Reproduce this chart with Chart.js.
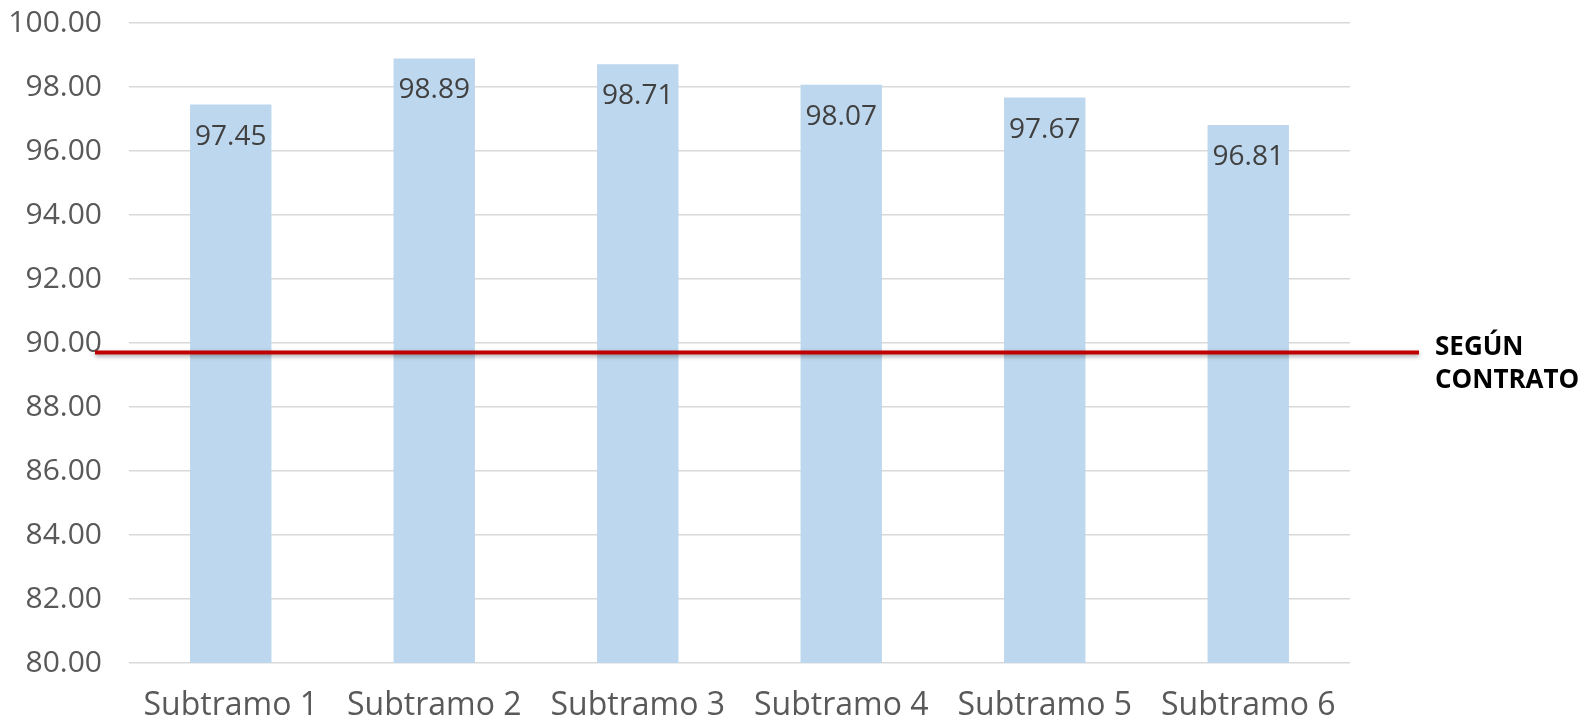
<!DOCTYPE html>
<html>
<head>
<meta charset="utf-8">
<script src="https://cdn.jsdelivr.net/npm/chart.js@4/dist/chart.umd.min.js"></script>
<style>
    body { margin: 0; background: #fff; }
    #wrap { width: 1582px; height: 727px; position: relative; }
</style>
</head>
<body>
<div id="wrap"><canvas id="chart"></canvas></div>
<script>
// Data
const categories = ['Subtramo 1', 'Subtramo 2', 'Subtramo 3', 'Subtramo 4', 'Subtramo 5', 'Subtramo 6'];
const values = [97.45, 98.89, 98.71, 98.07, 97.67, 96.81];
const yTicks = [80, 82, 84, 86, 88, 90, 92, 94, 96, 98, 100];
const contractValue = 89.7;
const contractLabel = ['SEGÚN', 'CONTRATO'];

const FONT = '"Open Sans", sans-serif';

// value labels inside the top of each bar
const barLabels = {
    id: 'barLabels',
    afterDatasetsDraw(chart) {
        const ctx = chart.ctx;
        const meta = chart.getDatasetMeta(0);
        ctx.save();
        ctx.font = '28px ' + FONT;
        ctx.fillStyle = '#404040';
        ctx.textAlign = 'center';
        ctx.textBaseline = 'middle';
        meta.data.forEach((bar, i) => {
            ctx.fillText(values[i].toFixed(2), bar.x, bar.y + 32);
        });
        ctx.restore();
    }
};

// red reference line + label
const contractLine = {
    id: 'contractLine',
    afterDraw(chart) {
        const ctx = chart.ctx;
        const area = chart.chartArea;
        const y = chart.scales.y.getPixelForValue(contractValue);
        ctx.save();
        ctx.shadowColor = 'rgba(0, 0, 0, 0.35)';
        ctx.shadowBlur = 4;
        ctx.shadowOffsetY = 2;
        ctx.strokeStyle = '#C00000';
        ctx.lineWidth = 4;
        ctx.beginPath();
        ctx.moveTo(area.left - 34, y);
        ctx.lineTo(area.right + 69, y);
        ctx.stroke();
        ctx.restore();

        ctx.save();
        ctx.font = 'bold 26px ' + FONT;
        ctx.fillStyle = '#000000';
        ctx.textAlign = 'left';
        ctx.textBaseline = 'middle';
        contractLabel.forEach((t, i) => {
            ctx.fillText(t, area.right + 85, y - 5 + i * 33);
        });
        ctx.restore();
    }
};

new Chart(document.getElementById('chart').getContext('2d'), {
    type: 'bar',
    data: {
        labels: categories,
        datasets: [{
            data: values,
            backgroundColor: '#BDD7EE',
            borderWidth: 0,
            barPercentage: 0.4,
            categoryPercentage: 1
        }]
    },
    options: {
        responsive: true,
        maintainAspectRatio: false,
        animation: false,
        layout: {
            padding: { top: 23, right: 232, bottom: 0, left: 0 }
        },
        plugins: {
            legend: { display: false },
            tooltip: { enabled: false }
        },
        scales: {
            x: {
                grid: { display: false },
                border: { display: false },
                ticks: {
                    color: '#595959',
                    font: { family: FONT, size: 32 },
                    padding: 16,
                    maxRotation: 0
                },
                afterFit(scale) {
                    scale.height = 64;
                    scale.paddingTop = 0;
                    scale.paddingBottom = 0;
                }
            },
            y: {
                min: 80,
                max: 100,
                afterBuildTicks(scale) {
                    scale.ticks = yTicks.map(v => ({ value: v }));
                },
                grid: { color: '#D9D9D9', lineWidth: 1.5, drawTicks: false },
                border: { display: false },
                ticks: {
                    color: '#595959',
                    font: { family: FONT, size: 30 },
                    padding: 27,
                    callback: v => v.toFixed(2)
                },
                afterFit(scale) {
                    scale.width = 129;
                    scale.paddingTop = 0;
                    scale.paddingBottom = 0;
                }
            }
        }
    },
    plugins: [barLabels, contractLine]
});
</script>
</body>
</html>
